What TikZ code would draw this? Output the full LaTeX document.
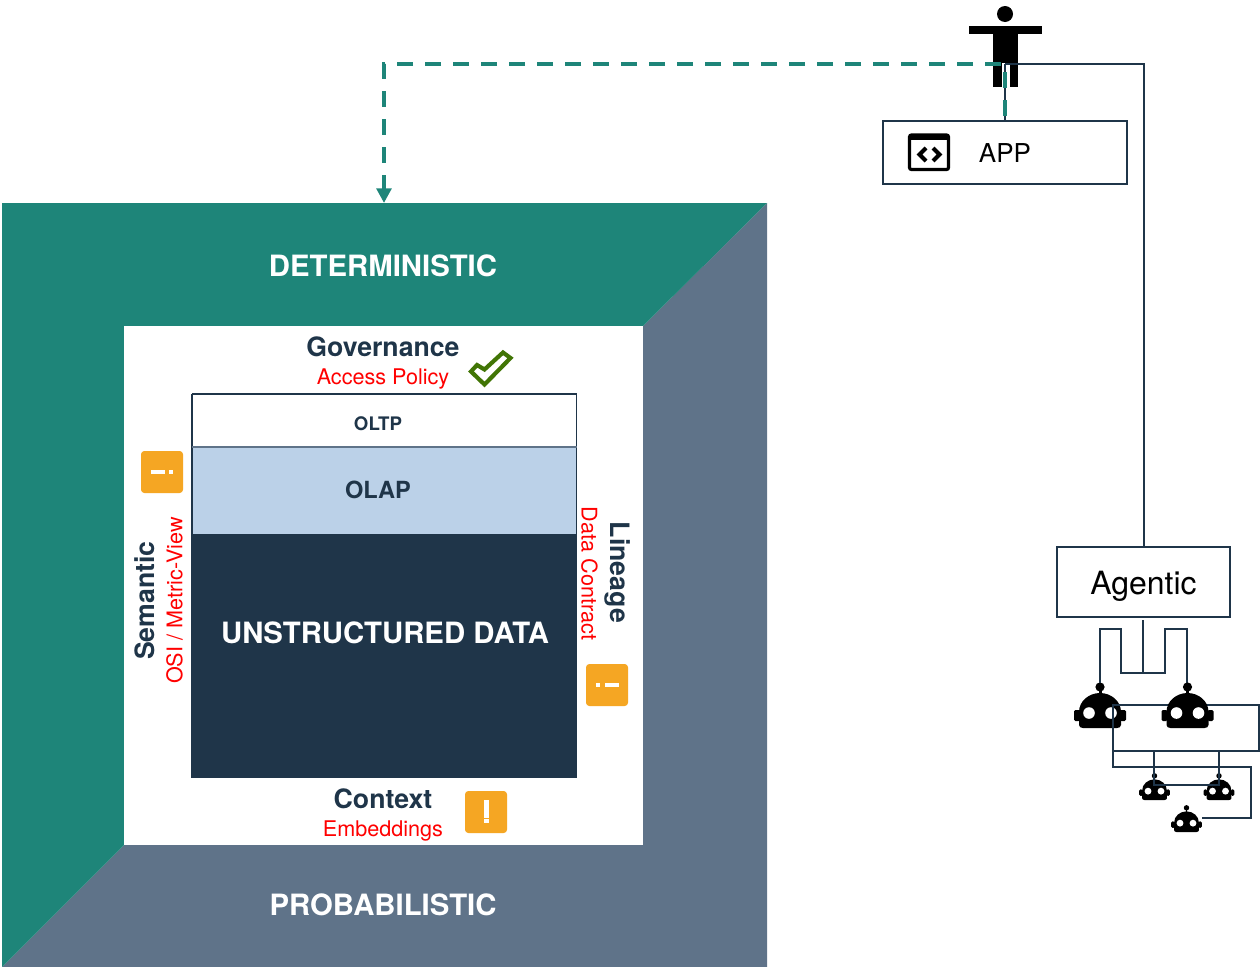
\documentclass[tikz,border=0pt]{standalone}
\usepackage{fontspec}
\setmainfont{TeX Gyre Heros}
\usetikzlibrary{arrows.meta,calc}
\definecolor{tealc}{HTML}{1E8579}
\definecolor{slatec}{HTML}{5F7389}
\definecolor{darkc}{HTML}{1F3549}
\definecolor{bluec}{HTML}{BBD1E8}
\definecolor{orangec}{HTML}{F5A623}
\definecolor{greenc}{HTML}{417505}
\definecolor{redc}{HTML}{FF0000}
\tikzset{
  x=0.75pt,y=-0.75pt,
  conn/.style={draw=darkc,line width=1.5pt},
  dashconn/.style={draw=tealc,line width=2.9pt,dash pattern=on 12pt off 9pt,-{Triangle[length=11pt,width=11pt]}},
  boxn/.style={draw=darkc,line width=1.5pt,fill=white,inner sep=0pt},
  layer/.style={draw=darkc,line width=1pt,inner sep=0pt,minimum width=288pt},
  white title/.style={text=white,font=\bfseries\fontsize{22}{26}\selectfont},
  dark title/.style={text=darkc,font=\bfseries\fontsize{20}{24}\selectfont},
  red sub/.style={text=redc,font=\fontsize{16.2}{19}\selectfont},
  badge/.style={fill=orangec,rounded corners=2.5pt},
  whitemark/.style={fill=white},
  anchorbox/.style={inner sep=0pt,minimum width=39pt,minimum height=34.5pt},
  smallbox/.style={inner sep=0pt,minimum width=22.5pt,minimum height=20.25pt},
  robot/.pic={
    \fill[black] (-21,-3) .. controls (-21,-1) and (-19,0) .. (-17,0) -- (17,0) .. controls (19,0) and (21,-1) .. (21,-3)
       -- (21,-16) .. controls (21,-27) and (11,-35) .. (0,-35) .. controls (-11,-35) and (-21,-27) .. (-21,-16) -- cycle;
    \fill[black,rounded corners=1pt] (-26,-18) rectangle (-20,-7);
    \fill[black,rounded corners=1pt] (20,-18) rectangle (26,-7);
    \fill[black] (-1.5,-42) rectangle (1.5,-33);
    \fill[black] (0,-41) circle[radius=4.6];
    \fill[white] (-11,-15) circle[radius=5.8];
    \fill[white] (11,-15) circle[radius=5.8];
  }
}
\begin{document}
\begin{tikzpicture}
\useasboundingbox (0,0) rectangle (1260,967);
% frame
\fill[slatec] (767,203) -- (767,967) -- (2,967) -- (124,845) -- (643,845) -- (643,326) -- cycle;
\fill[tealc] (2,203) -- (767,203) -- (643,326) -- (124,326) -- (124,845) -- (2,967) -- cycle;
\fill[white] (124,326) rectangle (643,845);
\node[white title] (det) at (383,266) {DETERMINISTIC};
\node[white title] (prob) at (383,905) {PROBABILISTIC};
% stack
\node[layer,fill=white,minimum height=39.75pt] (oltp) at (384.5,420.5) {};
\node[text=darkc,font=\bfseries\fontsize{14}{17}\selectfont] (oltpt) at (378,423.5) {OLTP};
\node[layer,fill=bluec,draw=none,minimum height=65.25pt] (olap) at (384.5,490.5) {};
\node[dark title,font=\bfseries\fontsize{17.7}{21}\selectfont] (olapt) at (378,489.5) {OLAP};
\node[layer,fill=darkc,draw=none,minimum height=183pt] (uns) at (384.5,656) {};
\node[white title] (unst) at (385,633) {UNSTRUCTURED DATA};
\draw[darkc,line width=1pt] (192,394) -- (192,778) (576.5,394) -- (576.5,778);
\draw[slatec,line width=.9pt] (192,447) -- (577,447);
% labels
\node[dark title] (gov) at (383,347) {Governance};
\node[red sub] (acc) at (383,378.5) {Access Policy};
\node[dark title] (ctx) at (383,799) {Context};
\node[red sub] (emb) at (383,830.5) {Embeddings};
\node[dark title,rotate=90] (sem) at (145,600.5) {Semantic};
\node[red sub,rotate=90] (osi) at (174.5,600.5) {OSI / Metric-View};
\node[dark title,rotate=-90] (lin) at (618,572.5) {Lineage};
\node[red sub,rotate=-90] (dc) at (589.5,573.5) {Data Contract};
% check
\draw[greenc,line width=3.1pt,miter limit=10] (471,371.5) -- (484.5,384.5) -- (510.5,358) -- (503,352.5) -- (484.5,369.5) -- (477,365) -- cycle;
% badges
\fill[badge] (141,451) rectangle (183,493);
\fill[whitemark] (150.5,470) rectangle (164.5,474);
\fill[whitemark] (169,470) rectangle (173,474);
\fill[badge] (586,664) rectangle (628,706);
\fill[whitemark] (596,683) rectangle (600,687);
\fill[whitemark] (605,683) rectangle (619,687);
\fill[badge] (465,791) rectangle (507,833);
\fill[whitemark] (483.5,800) rectangle (488.5,817.5);
\fill[whitemark] (483.5,819) rectangle (488.5,823);
% person
\fill[black] (1005,14) circle[radius=8];
\fill[black] (969,26) rectangle (1042,34);
\fill[black] (993,26) rectangle (1018,63);
\fill[black] (993,63) rectangle (1001.5,87);
\fill[black] (1009.5,63) rectangle (1018,87);
\coordinate (hub) at (1005,64);
% boxes
\node[boxn,minimum width=183pt,minimum height=47.25pt] (app) at (1005,152.5) {};
\node[font=\fontsize{19.5}{24}\selectfont] (appt) at (1005,153) {APP};
\node[boxn,minimum width=129.75pt,minimum height=52.5pt] (agent) at (1143.5,582) {};
\node[font=\fontsize{24}{28}\selectfont] (agentt) at (1143.5,586) {Agentic};
% app icon
\draw[black,line width=2.4pt,rounded corners=1.5pt] (909.5,135) rectangle (948.5,169.5);
\fill[black] (909,134) rectangle (949,140);
\draw[black,line width=3pt] (926,148) -- (919.5,154.5) -- (926,161);
\draw[black,line width=3pt] (933,148) -- (939.5,154.5) -- (933,161);
% connectors top
\draw[conn] (hub) -- (app.north);
\draw[conn] (hub) -| (agent.north);
\draw[dashconn] (app.north) ++(0,-4) -- (hub) -- (384,64) -- (384,203);
% robots
\node[anchorbox] (r1) at (1100,705) {};
\node[anchorbox] (r2) at (1187.5,705) {};
\node[smallbox] (s1) at (1154.5,786.5) {};
\node[smallbox] (s2) at (1219,786.5) {};
\node[smallbox] (s3) at (1186.5,818) {};
\pic at (1100,728) {robot};
\pic[scale=.59] at (1154.5,800) {robot};
\pic[scale=.59] at (1219,800) {robot};
\pic[scale=.59] at (1186.5,832) {robot};
% agent links
\coordinate (a0) at (1143,620);
\coordinate (a1) at (1143,673);
\draw[conn] (a0) -- (a1);
\draw[conn] (a1) -- (1121,673) -- (1121,629) -- (1100,629) -- (1100,683);
\draw[conn] (a1) -- (1165,673) -- (1165,629) -- (1187,629) -- (1187,683);
% robot links
\coordinate (b0) at (1113,705);
\coordinate (b1) at (1113,751);
\draw[conn] (b0) -- (1259,705) -- (1259,751) -- (b1) -- cycle;
\draw[conn] (b1) -- (1113,767) -- (1251,767) -- (1251,818) -- (s3.east);
\draw[conn] (1154,751) -- (1154,785) -- (1219,785) -- (1219,751);
\pic at (1187.5,728) {robot};
\end{tikzpicture}
\end{document}
